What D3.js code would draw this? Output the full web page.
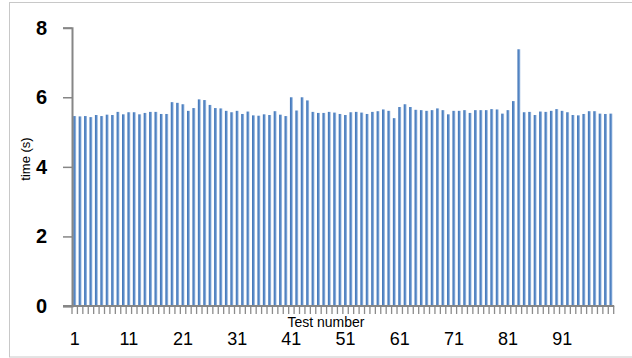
<!DOCTYPE html>
<html>
<head>
<meta charset="utf-8">
<script src="https://cdn.jsdelivr.net/npm/d3@7"></script>
<style>
  html, body { margin: 0; padding: 0; background: #fff; }
  svg { display: block; }
  text { font-family: "Liberation Sans", Arial, sans-serif; }
</style>
</head>
<body>
<svg id="chart" width="632" height="358"></svg>
<script>
// ---- data ----
const testNumbers = d3.range(1, 101);
const times = [
  5.46, 5.45, 5.46, 5.43, 5.49, 5.46, 5.50, 5.49, 5.58, 5.51,
  5.57, 5.57, 5.51, 5.55, 5.58, 5.58, 5.52, 5.52, 5.86, 5.84,
  5.80, 5.61, 5.69, 5.94, 5.92, 5.78, 5.69, 5.68, 5.61, 5.57,
  5.61, 5.52, 5.59, 5.48, 5.47, 5.51, 5.49, 5.60, 5.50, 5.46,
  6.00, 5.62, 6.00, 5.91, 5.58, 5.55, 5.55, 5.58, 5.56, 5.52,
  5.49, 5.57, 5.58, 5.56, 5.52, 5.58, 5.60, 5.65, 5.61, 5.40,
  5.72, 5.80, 5.72, 5.64, 5.63, 5.61, 5.63, 5.68, 5.63, 5.51,
  5.61, 5.61, 5.63, 5.55, 5.63, 5.63, 5.63, 5.66, 5.65, 5.53,
  5.63, 5.89, 7.38, 5.57, 5.58, 5.49, 5.59, 5.58, 5.61, 5.66,
  5.61, 5.57, 5.49, 5.48, 5.52, 5.60, 5.60, 5.53, 5.52, 5.53
];
const xTickLabels = [1, 11, 21, 31, 41, 51, 61, 71, 81, 91];
const yTicks = [0, 2, 4, 6, 8];
const xTitle = "Test number";
const yTitle = "time (s)";

// ---- layout ----
const svg = d3.select("#chart");
const plotLeft = 72, plotRight = 613.7, plotTop = 27.7, plotBottom = 306;
const pad = 0.46;

const x = d3.scaleBand().domain(testNumbers).range([plotLeft, plotRight])
  .paddingInner(pad).paddingOuter(pad / 2);
const y = d3.scaleLinear().domain([0, 8]).range([plotBottom, plotTop]);

// chart border
svg.append("rect").attr("x", 9.5).attr("y", 2.5).attr("width", 640).attr("height", 354.5)
  .attr("fill", "none").attr("stroke", "#c8c8c8").attr("stroke-width", 1);

// gradient for bars
const defs = svg.append("defs");
const g = defs.append("linearGradient").attr("id", "barGrad")
  .attr("x1", "0%").attr("x2", "100%").attr("y1", "0%").attr("y2", "0%");
g.append("stop").attr("offset", "0%").attr("stop-color", "#3f72b4");
g.append("stop").attr("offset", "55%").attr("stop-color", "#5b8cc9");
g.append("stop").attr("offset", "100%").attr("stop-color", "#b4cbe8");

// bars
svg.append("g").selectAll("rect").data(testNumbers).join("rect")
  .attr("x", d => x(d))
  .attr("width", x.bandwidth())
  .attr("y", (d, i) => y(times[i]))
  .attr("height", (d, i) => y(0) - y(times[i]))
  .attr("fill", "url(#barGrad)");

// y axis
const yAxis = svg.append("g").attr("transform", `translate(${plotLeft},0)`)
  .call(d3.axisLeft(y).tickValues(yTicks).tickSize(9).tickPadding(16).tickFormat(d3.format("d")));
yAxis.select(".domain").attr("stroke", "#868686").attr("stroke-width", 2);
yAxis.selectAll(".tick line").attr("stroke", "#868686").attr("stroke-width", 1.5);
yAxis.selectAll(".tick text")
  .attr("font-size", 20).attr("font-weight", "bold").attr("fill", "#000")
  .attr("font-family", "'Liberation Sans', Arial, sans-serif");

// x axis: category boundary tick marks
const step = x.step();
const boundaries = testNumbers.map(d => x(d) - step * pad / 2).concat([x(100) + x.bandwidth() + step * pad / 2]);
svg.append("g").selectAll("line").data(boundaries).join("line")
  .attr("x1", d => d).attr("x2", d => d)
  .attr("y1", plotBottom).attr("y2", plotBottom + 8)
  .attr("stroke", "#8c8c8c").attr("stroke-width", 1.3);
svg.append("line").attr("x1", plotLeft - 9).attr("x2", plotRight + 0.5)
  .attr("y1", plotBottom).attr("y2", plotBottom)
  .attr("stroke", "#868686").attr("stroke-width", 2);

// x tick labels
svg.append("g").selectAll("text").data(xTickLabels).join("text")
  .attr("x", d => x(d) + x.bandwidth() / 2)
  .attr("y", 345)
  .attr("text-anchor", "middle")
  .attr("font-size", 18)
  .attr("fill", "#000")
  .text(d => d);

// axis titles
svg.append("text").attr("x", 326).attr("y", 327).attr("text-anchor", "middle")
  .attr("font-size", 14).attr("fill", "#000").text(xTitle);
svg.append("text").attr("transform", "translate(30,159) rotate(-90)")
  .attr("text-anchor", "middle").attr("font-size", 13).attr("fill", "#000").text(yTitle);
</script>
</body>
</html>
